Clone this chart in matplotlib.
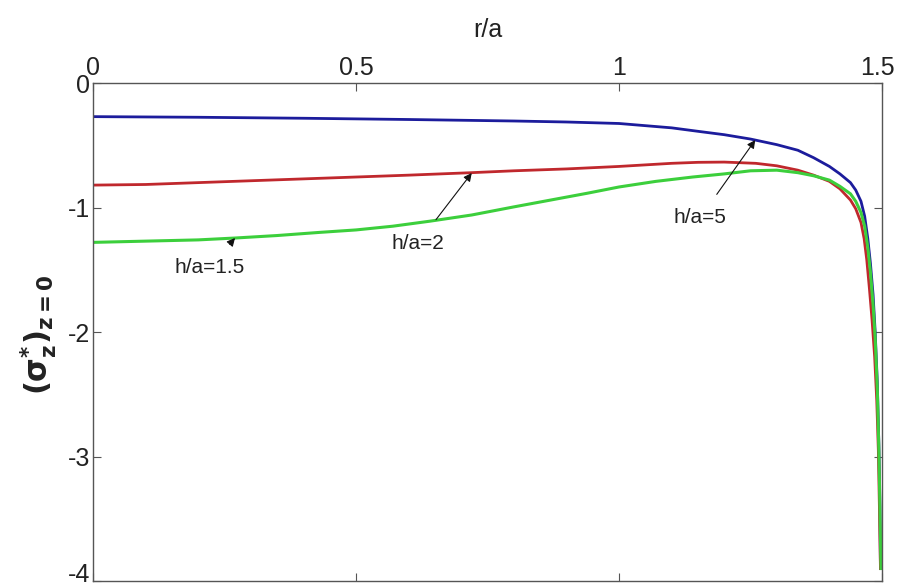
import matplotlib
matplotlib.use("Agg")
import matplotlib.pyplot as plt
import matplotlib.transforms as mtransforms

# Radial stress profiles at z = 0 for three thickness ratios
r_h5 = [0, 0.2, 0.4, 0.6, 0.8, 0.9, 1.0, 1.1, 1.154, 1.2, 1.25, 1.3, 1.34,
        1.37, 1.4, 1.42, 1.44, 1.45, 1.46, 1.467, 1.473, 1.478, 1.483, 1.487,
        1.491, 1.494, 1.496, 1.497]
s_h5 = [-0.27, -0.275, -0.283, -0.293, -0.305, -0.313, -0.325, -0.36, -0.39,
        -0.415, -0.45, -0.495, -0.54, -0.60, -0.67, -0.73, -0.80, -0.86, -0.95,
        -1.07, -1.25, -1.45, -1.7, -2.0, -2.4, -2.9, -3.4, -3.9]

r_h2 = [0, 0.1, 0.2, 0.3, 0.4, 0.5, 0.6, 0.72, 0.8, 0.9, 1.0, 1.1, 1.15,
        1.2, 1.26, 1.3, 1.34, 1.37, 1.4, 1.42, 1.44, 1.45, 1.46, 1.466, 1.471,
        1.476, 1.481, 1.486, 1.49, 1.493, 1.495, 1.497]
s_h2 = [-0.82, -0.815, -0.80, -0.785, -0.77, -0.755, -0.74, -0.72, -0.705,
        -0.69, -0.67, -0.645, -0.637, -0.635, -0.645, -0.665, -0.70, -0.74,
        -0.79, -0.85, -0.94, -1.01, -1.12, -1.25, -1.42, -1.65, -1.9, -2.2,
        -2.55, -2.95, -3.4, -3.9]

r_h15 = [0, 0.1, 0.2, 0.27, 0.35, 0.43, 0.5, 0.57, 0.64, 0.72, 0.8, 0.87,
         0.94, 1.0, 1.07, 1.14, 1.2, 1.25, 1.3, 1.34, 1.37, 1.4, 1.42, 1.44,
         1.45, 1.46, 1.467, 1.473, 1.478, 1.483, 1.487, 1.491, 1.494, 1.496,
         1.498]
s_h15 = [-1.28, -1.27, -1.26, -1.245, -1.225, -1.20, -1.18, -1.15, -1.11,
         -1.06, -0.995, -0.94, -0.885, -0.835, -0.79, -0.755, -0.73, -0.705,
         -0.70, -0.72, -0.745, -0.78, -0.83, -0.89, -0.95, -1.04, -1.15,
         -1.32, -1.52, -1.78, -2.05, -2.45, -2.95, -3.4, -3.9]

x_ticks = [0, 0.5, 1, 1.5]
x_tick_labels = ["0", "0.5", "1", "1.5"]
y_ticks = [0, -1, -2, -3, -4]
y_tick_labels = ["0", "-1", "-2", "-3", "-4"]

# (label, arrow tip, text position)
notes = [
    ("h/a=5", (1.259, -0.458), (1.154, -1.084)),
    ("h/a=2", (0.72, -0.723), (0.618, -1.285)),
    ("h/a=1.5", (0.27, -1.245), (0.222, -1.478)),
]

plt.rcParams["font.family"] = ["Liberation Sans", "DejaVu Sans"]
plt.rcParams["mathtext.fontset"] = "dejavusans"

tick_fs = 18
note_fs = 15
ink = "#222222"

fig = plt.figure(figsize=(8.97, 5.88), dpi=100)
ax = fig.add_axes([0.1037, 0.0119, 0.8796, 0.8469])

ax.plot(r_h5, s_h5, color="#1c1c9c", lw=2.0)
ax.plot(r_h2, s_h2, color="#c0282d", lw=2.0)
ax.plot(r_h15, s_h15, color="#3ccf3c", lw=2.2)

ax.set_xlim(0, 1.5)
ax.set_ylim(-4, 0)

ax.xaxis.tick_top()
ax.xaxis.set_label_position("top")
ax.set_xticks(x_ticks)
ax.set_xticklabels(x_tick_labels, fontsize=tick_fs, color=ink)
ax.set_yticks(y_ticks)
ax.set_yticklabels(y_tick_labels, fontsize=tick_fs, color=ink)
ax.tick_params(axis="both", direction="in", length=6, width=0.8,
               color="#555555", top=True, bottom=True, left=True, right=True,
               labeltop=True, labelbottom=False, pad=2)

# keep the outermost tick labels inside the figure
last_x = ax.get_xticklabels()[-1]
last_x.set_horizontalalignment("right")
last_x.set_transform(last_x.get_transform() +
                     mtransforms.ScaledTranslation(13 / 100, 0, fig.dpi_scale_trans))
low_y = ax.get_yticklabels()[-1]
low_y.set_verticalalignment("bottom")
low_y.set_transform(low_y.get_transform() +
                    mtransforms.ScaledTranslation(0, -6 / 100, fig.dpi_scale_trans))

for s in ax.spines.values():
    s.set_color("#555555")
    s.set_linewidth(1.0)

ax.set_xlabel("r/a", fontsize=tick_fs, color=ink, labelpad=14)
fig.text(0.043, 0.43, r"$\mathbf{(\sigma^{*}_{z})_{z=0}}$", rotation=90,
         fontsize=22, ha="center", va="center", color=ink)

for label, tip, txt in notes:
    ax.annotate(label, xy=tip, xytext=txt, fontsize=note_fs, color=ink,
                ha="center", va="center",
                arrowprops=dict(arrowstyle="-|>", color="#111111", lw=0.8,
                                mutation_scale=12, shrinkA=10, shrinkB=0))

fig.savefig("out.png", dpi=100)
